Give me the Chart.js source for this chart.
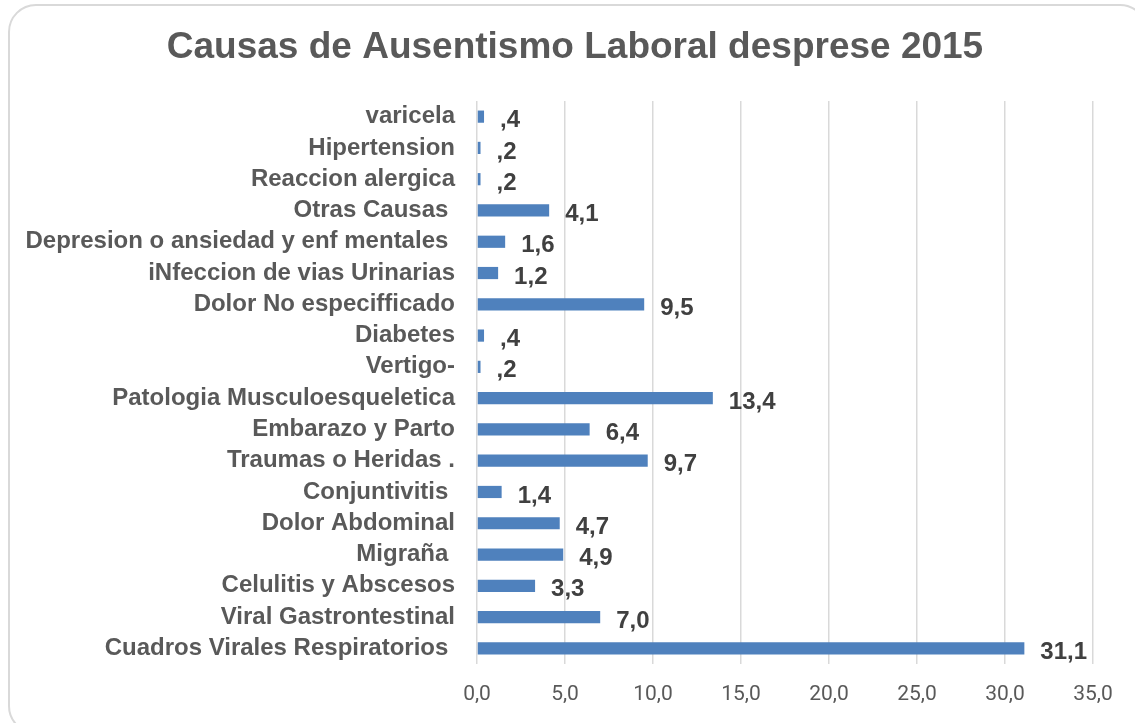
<!DOCTYPE html>
<html>
<head>
<meta charset="utf-8">
<script src="https://cdn.jsdelivr.net/npm/chart.js@4"></script>
<style>
  html, body { margin: 0; padding: 0; background: #fff; overflow: hidden; }
  #wrap { position: relative; width: 1135px; height: 723px; }
  #frame {
    position: absolute; left: 8px; top: 4px; width: 1140px; height: 730px;
    border: 2px solid #d9d9d9; border-radius: 28px; box-sizing: border-box;
  }
  canvas { position: absolute; left: 0; top: 0; }
</style>
</head>
<body>
<div id="wrap">
  <div id="frame"></div>
  <canvas id="chart" width="1135" height="723"></canvas>
</div>
<script>
const titulo = "Causas de Ausentismo Laboral desprese 2015";
const categories = [
    "varicela",
    "Hipertension",
    "Reaccion alergica",
    "Otras Causas ",
    "Depresion o ansiedad y enf mentales ",
    "iNfeccion de vias Urinarias",
    "Dolor No especifficado",
    "Diabetes",
    "Vertigo-",
    "Patologia Musculoesqueletica",
    "Embarazo y Parto",
    "Traumas o Heridas .",
    "Conjuntivitis ",
    "Dolor Abdominal",
    "Migraña ",
    "Celulitis y Abscesos",
    "Viral Gastrontestinal",
    "Cuadros Virales Respiratorios "
];
const porcentajes = [0.4, 0.2, 0.2, 4.1, 1.6, 1.2, 9.5, 0.4, 0.2, 13.4, 6.4, 9.7, 1.4, 4.7, 4.9, 3.3, 7.0, 31.1];
const xTicks = [0, 5, 10, 15, 20, 25, 30, 35];

function fmt(v) {
    var s = v.toFixed(1).replace(".", ",");
    if (s.indexOf("0,") === 0) s = s.substring(1);
    return s;
}

// titulo centrado sobre todo el grafico
const tituloPlugin = {
    id: "tituloPlugin",
    afterDraw: function (chart) {
        var ctx = chart.ctx;
        ctx.save();
        ctx.font = "bold 37px 'Liberation Sans', Arial, sans-serif";
        ctx.fillStyle = "#595959";
        ctx.textAlign = "center";
        ctx.textBaseline = "middle";
        ctx.fillText(titulo, 575, 48);
        ctx.restore();
    }
};

// etiquetas de valor al final de cada barra
const valueLabels = {
    id: "valueLabels",
    afterDatasetsDraw: function (chart) {
        var ctx = chart.ctx;
        var meta = chart.getDatasetMeta(0);
        ctx.save();
        ctx.font = "bold 24px 'Liberation Sans', Arial, sans-serif";
        ctx.fillStyle = "#404040";
        ctx.textAlign = "left";
        ctx.textBaseline = "middle";
        meta.data.forEach(function (bar, i) {
            ctx.fillText(fmt(porcentajes[i]), bar.x + 16, bar.y + 4);
        });
        ctx.restore();
    }
};

var ctx = document.getElementById("chart").getContext("2d");
var myChart = new Chart(ctx, {
    type: "bar",
    data: {
        labels: categories,
        datasets: [
            {
                data: porcentajes,
                backgroundColor: "#4f81bd",
                borderWidth: 0,
                categoryPercentage: 1,
                barPercentage: 0.39,
            },
        ],
    },
    options: {
        indexAxis: "y",
        responsive: false,
        animation: false,
        layout: { padding: { left: 0, right: 42, top: 101, bottom: 0 } },
        plugins: {
            legend: { display: false },
            tooltip: { enabled: false },
            title: { display: false },
        },
        scales: {
            x: {
                min: 0,
                max: 35,
                afterBuildTicks: function (axis) {
                    axis.ticks = xTicks.map(function (v) { return { value: v }; });
                },
                afterFit: function (axis) { axis.height = 59; },
                grid: { color: "#d9d9d9", lineWidth: 1.5, drawTicks: false },
                border: { display: false },
                ticks: {
                    padding: 18,
                    color: "#595959",
                    font: { family: "Roboto, sans-serif", size: 21 },
                    callback: function (v) { return v.toFixed(1).replace(".", ","); },
                },
            },
            y: {
                afterFit: function (axis) { axis.width = 477; },
                grid: { display: false, drawTicks: false },
                border: { display: false },
                ticks: {
                    padding: 22,
                    autoSkip: false,
                    color: "#595959",
                    font: { family: "'Liberation Sans', Arial, sans-serif", size: 24, weight: "bold" },
                },
            },
        },
    },
    plugins: [valueLabels, tituloPlugin],
});
</script>
</body>
</html>
